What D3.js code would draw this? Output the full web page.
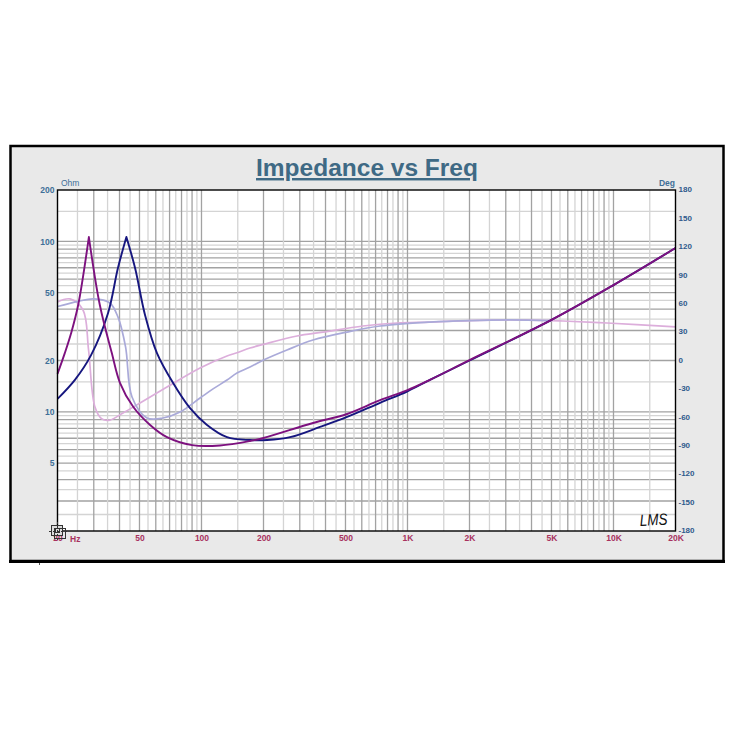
<!DOCTYPE html>
<html>
<head>
<meta charset="utf-8">
<script src="https://cdn.jsdelivr.net/npm/d3@7"></script>
<style>
body { margin: 0; background: #fff; }
text { font-family: "Liberation Sans", Arial, sans-serif; }
</style>
</head>
<body>
<div id="chart-area"></div>
<script>
// tick labels
var freqTicks = [20, 50, 100, 200, 500, 1000, 2000, 5000, 10000, 20000]
var ohmTicks = [200, 100, 50, 20, 10, 5]
var degTicks = [180, 150, 120, 90, 60, 30, 0, -30, -60, -90, -120, -150, -180]

// impedance curves, [Hz, ohm]. the resonance peak is listed twice so the tip stays sharp
var zPurple = [[20,16.7],[21.7,22.1],[23.3,29],[25.2,42.3],[28.4,106],[28.4,106],[32.1,42.3],[36.7,22.1],[40.2,14.8],[46.6,10.7],[56.3,8.37],[68,7.1],[90,6.38],[123,6.35],[172,6.74],[200,7.02],[348,8.6],[509,9.71],[736,11.7],[1000,13.4],[1285,15.4],[2000,20.1],[5000,34.6],[10000,55.4],[20000,91.4]]
var zNavy = [[20,11.9],[24.3,15.4],[29.1,21.5],[35.2,38],[39.3,69.7],[43.2,106],[43.2,106],[47.6,69.7],[53.2,37],[60.8,22.1],[72.7,14.8],[88,10.5],[106,8.4],[133,7.1],[172,6.83],[208,6.83],[269,7.1],[376,8.15],[509,9.33],[736,11.3],[1000,13.2],[1285,15.4],[2000,20],[5000,34.6],[10000,55.4],[20000,91.4]]

// phase curves, [Hz, deg]
var phaseBlue = [[20,57],[25.2,62.5],[30,65],[35.9,60.7],[39.3,46],[42.8,14.3],[46,-38.5],[54.4,-60.7],[65,-60.7],[78.7,-54.4],[98.4,-39.6],[113.8,-30],[133,-20.6],[148.7,-13.2],[172,-6.9],[200,0.5],[260,11.1],[348,21.6],[509,30],[736,36.4],[1285,40.6],[2000,42.2],[3145,42.8],[5000,42.2]]
var phasePink = [[20,61.8],[23,65],[26.6,53.3],[28.3,11.1],[30.4,-49.1],[32.9,-61.8],[35.9,-62.9],[41.6,-55.4],[50.3,-44.9],[68,-28],[98.4,-7.9],[133,4.8],[148.7,8.2],[172,13.2],[200,17.1],[291,25.9],[389,30],[608,36.4],[889,39.6],[1285,40.6],[2000,42.2],[3145,42.8],[5000,42.2],[5686,41.7],[9300,39.6],[20000,35.4]]

var cw = 738, ch = 748
var m = {l: 57.5, t: 190, r: 675.5, b: 531}

var svg = d3.select("#chart-area").append("svg")
    .attr("width", cw)
    .attr("height", ch)
    .style("display", "block")

var x = d3.scaleLog().domain([20, 20000]).range([m.l, m.r])
var yZ = d3.scaleLog().domain([2, 200]).range([m.b, m.t])
var yP = d3.scaleLinear().domain([-180, 180]).range([m.b, m.t])

// frame
svg.append("rect")
    .attr("x", 10.5).attr("y", 146)
    .attr("width", 713).attr("height", 415)
    .attr("fill", "#e9e9e9")
    .attr("stroke", "#000")
    .attr("stroke-width", 2.5)
svg.append("line")
    .attr("x1", 9).attr("x2", 725)
    .attr("y1", 561.5).attr("y2", 561.5)
    .attr("stroke", "#000").attr("stroke-width", 3)
svg.append("line")
    .attr("x1", 39.5).attr("x2", 39.5)
    .attr("y1", 563).attr("y2", 565)
    .attr("stroke", "#555")

svg.append("rect")
    .attr("x", m.l).attr("y", m.t)
    .attr("width", m.r - m.l).attr("height", m.b - m.t)
    .attr("fill", "#fff")

// grid: solid on the multiples, pale on the halves between them
var fGrid = [], zGrid = []
;[10, 100, 1000, 10000].forEach(d => {
    for (var i = 1; i < 10; i += 0.5) {
        var v = d * i
        if (v > 20 && v < 20000) fGrid.push({v: v, major: i % 1 == 0})
    }
})
;[1, 10, 100].forEach(d => {
    for (var i = 1; i < 10; i += 0.5) {
        var v = d * i
        if (v > 2 && v < 200) zGrid.push({v: v, major: i % 1 == 0})
    }
})

var grid = svg.append("g").attr("class", "grid")
var gridSorted = d => d.slice().sort((a, b) => a.major - b.major)

grid.selectAll(".h").data(gridSorted(zGrid)).enter().append("line")
    .attr("x1", m.l).attr("x2", m.r)
    .attr("y1", d => yZ(d.v)).attr("y2", d => yZ(d.v))
    .attr("stroke", d => d.major ? "#a2a2a2" : "#d4d4d4")
    .attr("stroke-width", 1.3)
grid.selectAll(".v").data(gridSorted(fGrid)).enter().append("line")
    .attr("y1", m.t).attr("y2", m.b)
    .attr("x1", d => x(d.v)).attr("x2", d => x(d.v))
    .attr("stroke", d => d.major ? "#a2a2a2" : "#d4d4d4")
    .attr("stroke-width", 1.3)

// curves
var line = yScale => d3.line()
    .x(d => x(d[0]))
    .y(d => yScale(d[1]))
    .curve(d3.curveCatmullRom.alpha(0.5))

var series = [
    {data: phasePink, y: yP, color: "#dcaedb", w: 1.7},
    {data: phaseBlue, y: yP, color: "#aaaad9", w: 1.7},
    {data: zNavy, y: yZ, color: "#16167f", w: 1.9},
    {data: zPurple, y: yZ, color: "#7d117f", w: 1.9}
]
svg.append("g").selectAll("path").data(series).enter().append("path")
    .attr("d", d => line(d.y)(d.data))
    .attr("fill", "none")
    .attr("stroke", d => d.color)
    .attr("stroke-width", d => d.w)
    .attr("stroke-linejoin", "round")

// plot border
svg.append("rect")
    .attr("x", m.l).attr("y", m.t)
    .attr("width", m.r - m.l).attr("height", m.b - m.t)
    .attr("fill", "none")
    .attr("stroke", "#000")
    .attr("stroke-width", 1.4)

// axes
var bottomAxis = d3.axisBottom(x)
    .tickValues(freqTicks)
    .tickSize(0).tickPadding(4)
    .tickFormat(d => d >= 1000 ? (d / 1000) + "K" : d)
var leftAxis = d3.axisLeft(yZ).tickValues(ohmTicks).tickSize(0).tickPadding(3).tickFormat(d => d)
var rightAxis = d3.axisRight(yP).tickValues(degTicks).tickSize(0).tickPadding(3).tickFormat(d => d)

var gb = svg.append("g").attr("transform", "translate(0," + m.b + ")").call(bottomAxis)
var gl = svg.append("g").attr("transform", "translate(" + m.l + ",0)").call(leftAxis)
var gr = svg.append("g").attr("transform", "translate(" + m.r + ",0)").call(rightAxis)

gb.select(".domain").remove()
gl.select(".domain").remove()
gr.select(".domain").remove()

function tickStyle(g, color, size) {
    g.attr("font-family", null)
    g.selectAll("text")
        .attr("fill", color)
        .attr("font-size", size)
        .attr("font-weight", "bold")
}
tickStyle(gb, "#a8325f", "8.5px")
tickStyle(gl, "#3f6f98", "8.5px")
tickStyle(gr, "#2f5a8c", "8px")
gr.selectAll("text").attr("dy", "0.22em")

svg.append("text")
    .attr("x", 70).attr("y", 542)
    .attr("font-size", "8.5px").attr("font-weight", "bold")
    .attr("fill", "#a8325f")
    .text("Hz")
svg.append("text")
    .attr("x", 61).attr("y", 186)
    .attr("font-size", "8.5px")
    .attr("fill", "#3f6f98")
    .text("Ohm")
svg.append("text")
    .attr("x", 675).attr("y", 186)
    .attr("text-anchor", "end")
    .attr("font-size", "8.5px").attr("font-weight", "bold")
    .attr("fill", "#3f6f98")
    .text("Deg")

// title
svg.append("text")
    .attr("x", 367).attr("y", 176)
    .attr("text-anchor", "middle")
    .attr("font-size", "24.5px")
    .attr("font-weight", "bold")
    .attr("text-decoration", "underline")
    .attr("fill", "#3f6a85")
    .text("Impedance vs Freq")

// LMS signature
svg.append("text")
    .attr("transform", "translate(640,526) rotate(-3) scale(1,1.2)")
    .attr("font-size", "13.5px")
    .attr("font-style", "italic")
    .attr("fill", "#111")
    .text("LMS")

// little icon in the corner
var icon = svg.append("g").attr("fill", "none").attr("stroke", "#333").attr("stroke-width", 1)
icon.append("rect").attr("x", 51.5).attr("y", 525.5).attr("width", 11).attr("height", 10).attr("fill", "#ddd")
icon.append("rect").attr("x", 54.5).attr("y", 528.5).attr("width", 11).attr("height", 10)
icon.append("rect").attr("x", 55.5).attr("y", 528.5).attr("width", 4).attr("height", 4)
icon.append("line").attr("x1", 49).attr("x2", 67).attr("y1", 531.5).attr("y2", 531.5).attr("stroke-dasharray", "2,2")
icon.append("line").attr("x1", 57.5).attr("x2", 57.5).attr("y1", 522).attr("y2", 540).attr("stroke-dasharray", "2,2")
</script>
</body>
</html>
